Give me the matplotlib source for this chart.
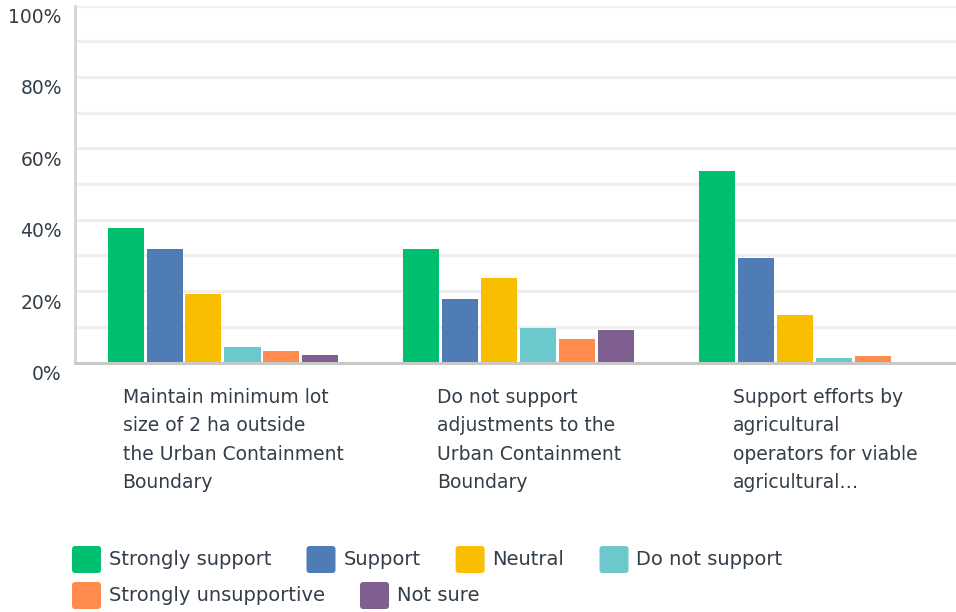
import matplotlib
matplotlib.use("Agg")
import matplotlib.pyplot as plt
from matplotlib import transforms
from matplotlib.patches import FancyBboxPatch
import numpy as np

plt.rcParams['font.family'] = ['DejaVu Sans']

# Survey responses (% of respondents)
categories = [
    "Maintain minimum lot\nsize of 2 ha outside\nthe Urban Containment\nBoundary",
    "Do not support\nadjustments to the\nUrban Containment\nBoundary",
    "Support efforts by\nagricultural\noperators for viable\nagricultural\u2026",
]
series_names = ["Strongly support", "Support", "Neutral", "Do not support",
                "Strongly unsupportive", "Not sure"]
strongly_support = [37.7, 31.8, 53.6]
support = [31.8, 17.8, 29.3]
neutral = [19.2, 23.7, 13.3]
do_not_support = [4.3, 9.7, 1.3]
strongly_unsupportive = [3.2, 6.6, 1.8]
not_sure = [2.1, 9.1, 0.0]
series_values = [strongly_support, support, neutral, do_not_support,
                 strongly_unsupportive, not_sure]
y_ticks = [0, 20, 40, 60, 80, 100]
y_tick_labels = ["0%", "20%", "40%", "60%", "80%", "100%"]

colors = ["#00bf6f", "#507cb6", "#f9be00", "#6bc8cd", "#ff8b4f", "#7f5f90"]
text_color = "#333e48"

W, H = 956, 612
fig = plt.figure(figsize=(W / 100, H / 100), dpi=100)

# axes geometry in pixels
ax_left, ax_right = 75, 963
ax_bottom, ax_top = 362.5, 5.5
ax = fig.add_axes([ax_left / W, (H - ax_bottom) / H,
                   (ax_right - ax_left) / W, (ax_bottom - ax_top) / H])

n_groups = len(categories)
x = np.arange(n_groups)
slot_px = (ax_right - ax_left) / n_groups
bar_w = 36 / slot_px
step = 39 / slot_px
for k, (vals, c) in enumerate(zip(series_values, colors)):
    ax.bar(x + (k - 2.5) * step, vals, width=bar_w, color=c, zorder=3,
           linewidth=0)

ax.set_xlim(-0.5, n_groups - 0.5)
ax.set_ylim(0, 100)
ax.set_yticks(y_ticks)
ax.set_yticks(np.arange(10, 100, 20), minor=True)
ax.yaxis.grid(True, which="both", color="#efefef", linewidth=2.2, zorder=0)
ax.set_yticklabels(y_tick_labels, fontsize=13.5, color=text_color)
ax.tick_params(axis="y", which="both", length=0, pad=9.5)
ax.set_xticks([])
offset = transforms.ScaledTranslation(0, -10 / 100, fig.dpi_scale_trans)
for lbl in ax.get_yticklabels():
    lbl.set_transform(lbl.get_transform() + offset)

for side in ("top", "right"):
    ax.spines[side].set_visible(False)
ax.spines["left"].set_color("#d4d4d4")
ax.spines["left"].set_linewidth(2)
ax.spines["bottom"].set_color("#c8c8c8")
ax.spines["bottom"].set_linewidth(2.2)
ax.spines["bottom"].set_zorder(4)

# category labels: left-aligned text block centred under each group
lab_tr = transforms.blended_transform_factory(ax.transData, fig.transFigure) + \
    transforms.ScaledTranslation(10 / 100, 0, fig.dpi_scale_trans)
for i, cat in enumerate(categories):
    fig.text(i, (H - 388) / H, cat, transform=lab_tr, ha="center",
             multialignment="left", va="top",
             fontsize=13.5, color=text_color, linespacing=1.62)

# legend laid out as a flowing row of swatches
renderer = fig.canvas.get_renderer()
x0 = 72
xpos, row_y = x0, 559.5
sw_w, sw_h, gap_text, gap_item = 29, 27, 8, 35
for name, c in zip(series_names, colors):
    t = fig.text(0, 0, name, fontsize=14, color=text_color, va="center",
                 ha="left")
    tw = t.get_window_extent(renderer).width
    if xpos + sw_w + gap_text + tw > 900:
        xpos = x0
        row_y += 36
    sw = FancyBboxPatch((xpos / W, (H - row_y - sw_h / 2) / H), sw_w / W,
                        sw_h / H,
                        boxstyle="round,pad=0,rounding_size=0.0035",
                        transform=fig.transFigure, facecolor=c,
                        edgecolor="none", mutation_aspect=W / H)
    fig.add_artist(sw)
    t.set_position(((xpos + sw_w + gap_text) / W, (H - row_y) / H))
    xpos += sw_w + gap_text + tw + gap_item

fig.savefig("out.png", dpi=100)
